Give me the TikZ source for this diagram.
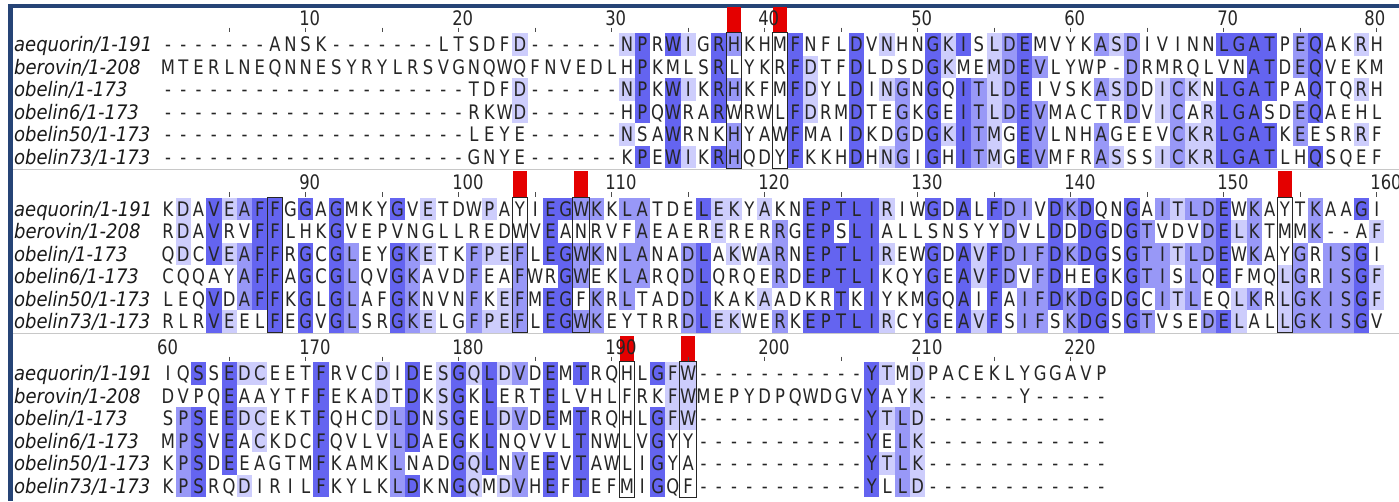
\documentclass[tikz,border=0pt]{standalone}
\usepackage{fontspec}
\usepackage{tikz}
\usetikzlibrary{positioning}
\newfontfamily\resfont[FakeStretch=0.82]{DejaVu Sans}
\newfontfamily\namefont[FakeStretch=0.9]{DejaVu Sans}

\definecolor{pidhigh}{RGB}{100,100,240}
\definecolor{pidmid}{RGB}{152,152,247}
\definecolor{pidlow}{RGB}{205,205,252}
\definecolor{framebar}{RGB}{38,68,118}
\definecolor{sitemark}{RGB}{228,0,0}
\definecolor{rulegray}{RGB}{200,200,200}

\tikzset{
	res/.style={minimum width=15.3pt,minimum height=22.5pt,inner sep=0pt,
		text height=14.6pt,text depth=0pt,text=black!85,
		font=\resfont\fontsize{20pt}{24pt}\selectfont},
	seqname/.style={anchor=west,inner sep=0pt,text height=14.6pt,text depth=0pt,
		text=black!90,font=\namefont\itshape\fontsize{20pt}{24pt}\selectfont},
	rulenum/.style={anchor=west,inner sep=0pt,text height=14.6pt,text depth=0pt,
		text=black!85,font=\resfont\fontsize{20pt}{24pt}\selectfont},
	ruletick/.style={draw=black!70,line width=0.9pt},
	colbox/.style={draw=black!85,line width=1pt},
	sitebar/.style={fill=sitemark}
}

% alignment rows, columns 1-222
\newcommand\setrow[2]{\expandafter\def\csname aln#1\endcsname{#2}}
\setrow{1}{%
-------ANSK-------LTSDFD------NPRWIGRHKHMFNFLDVNHNGKISLDEMVYKASDIVINNLGATPEQAKRH%
KDAVEAFFGGAGMKYGVETDWPAYIEGWKKLATDELEKYAKNEPTLIRIWGDALFDIVDKDQNGAITLDEWKAYTKAAGI%
IQSSEDCEETFRVCDIDESGQLDVDEMTRQHLGFW-----------YTMDPACEKLYGGAVP}
\setrow{2}{%
MTERLNEQNNESYRYLRSVGNQWQFNVEDLHPKMLSRLYKRFDTFDLDSDGKMEMDEVLYWP-DRMRQLVNATDEQVEKM%
RDAVRVFFLHKGVEPVNGLLREDWVEANRVFAEAERERERRGEPSLIALLSNSYYDVLDDDGDGTVDVDELKTMMK--AF%
DVPQEAAYTFFEKADTDKSGKLERTELVHLFRKFWMEPYDPQWDGVYAYK------Y-----}
\setrow{3}{%
--------------------TDFD------NPKWIKRHKFMFDYLDINGNGQITLDEIVSKASDDICKNLGATPAQTQRH%
QDCVEAFFRGCGLEYGKETKFPEFLEGWKNLANADLAKWARNEPTLIREWGDAVFDIFDKDGSGTITLDEWKAYGRISGI%
SPSEEDCEKTFQHCDLDNSGELDVDEMTRQHLGFW-----------YTLD------------}
\setrow{4}{%
--------------------RKWD------HPQWRARWRWLFDRMDTEGKGEITLDEVMACTRDVICARLGASDEQAEHL%
CQQAYAFFAGCGLQVGKAVDFEAFWRGWEKLARQDLQRQERDEPTLIKQYGEAVFDVFDHEGKGTISLQEFMQLGRISGF%
MPSVEACKDCFQVLVLDAEGKLNQVVLTNWLVGYY-----------YELK------------}
\setrow{5}{%
--------------------LEYE------NSAWRNKHYAWFMAIDKDGDGKITMGEVLNHAGEEVCKRLGATKEESRRF%
LEQVDAFFKGLGLAFGKNVNFKEFMEGFKRLTADDLKAKAADKRTKIYKMGQAIFAIFDKDGDGCITLEQLKRLGKISGF%
KPSDEEAGTMFKAMKLNADGQLNVEEVTAWLIGYA-----------YTLK------------}
\setrow{6}{%
--------------------GNYE------KPEWIKRHQDYFKKHDHNGIGHITMGEVMFRASSSICKRLGATLHQSQEF%
RLRVEELFEGVGLSRGKELGFPEFLEGWKEYTRRDLEKWERKEPTLIRCYGEAVFSIFSKDGSGTVSEDELALLGKISGV%
KPSRQDIRILFKYLKLDKNGQMDVHEFTEFMIGQF-----------YLLD------------}

% shade of one residue: identity count in its column (6 sequences)
\ExplSyntaxOn
\int_new:N \l_aln_hits_int
\tl_new:N \l_aln_res_tl
\cs_new:Npn \aln_res:nn #1#2 { \str_item:cn { aln#1 } { #2 } }
\NewDocumentCommand \getshade { m m }
  {
    \tl_set:Nx \l_aln_res_tl { \aln_res:nn {#1} {#2} }
    \int_zero:N \l_aln_hits_int
    \int_step_inline:nn { 6 }
      {
        \str_if_eq:eeT { \l_aln_res_tl } { \aln_res:nn {##1} {#2} }
          { \int_incr:N \l_aln_hits_int }
      }
    \str_if_eq:eeT { \l_aln_res_tl } { - }
      { \int_zero:N \l_aln_hits_int }
    \int_compare:nNnTF { \l_aln_hits_int } > { 4 }
      { \gdef \cellfill {pidhigh} }
      {
        \int_case:nnF { \l_aln_hits_int }
          { { 4 } { \gdef \cellfill {pidmid} } { 3 } { \gdef \cellfill {pidlow} } }
          { \gdef \cellfill {white} }
      }
    \xdef \cellres { \l_aln_res_tl }
  }
\ExplSyntaxOff

\begin{document}
\begin{tikzpicture}[x=1pt,y=-1pt]
	\useasboundingbox (0,0) rectangle (1399,501);
	\clip (0,0) rectangle (1399,501);

	% ==================================================
	% 1. WINDOW FRAME AND BLOCK SEPARATORS
	% ==================================================
	\fill[framebar] (8,4) rectangle (1399,7.5);
	\fill[framebar] (8,4) rectangle (13,501);
	\draw[rulegray] (13,169) -- (1399,169);
	\draw[rulegray] (13,333.5) -- (1399,333.5);

	% ==================================================
	% 2. NAMES AND RESIDUES (PERCENTAGE IDENTITY)
	% ==================================================
	\foreach \blk/\fcol/\lcol in {0/1/80,1/81/160,2/161/222}{
		\pgfmathsetmacro\blktop{33+164.5*\blk}
		\foreach \nm [count=\r] in {{aequorin/1-191},{berovin/1-208},{obelin/1-173},
			{obelin6/1-173},{obelin50/1-173},{obelin73/1-173}}
			\node[seqname] (n\blk-\r) at (14,{\blktop+(\r-0.5)*22.5}) {\nm};
		\foreach \c in {\fcol,...,\lcol}{
			\pgfmathsetmacro\xc{168+(\c-\fcol)*15.3}
			\foreach \r in {1,...,6}{
				\getshade{\r}{\c}
				\node[res,fill=\cellfill] (s\r-\c) at (\xc,{\blktop+(\r-0.5)*22.5}) {\cellres};
			}
		}
	}

	% ==================================================
	% 3. MARKED SITES AND BOXED COLUMNS
	% ==================================================
	\foreach \c in {38,41,104,108,154,191,195}
		\fill[sitebar] ([xshift=-7pt]s1-\c.north) rectangle ([xshift=7pt,yshift=26pt]s1-\c.north);
	\foreach \c in {38,41,88,104,108,154,191,195}
		\draw[colbox] (s1-\c.north west) rectangle (s6-\c.south east);

	% ==================================================
	% 4. RULER: TICKS EVERY 5, NUMBERS EVERY 10
	% ==================================================
	\foreach \blk/\fcol/\ticks in {0/1/{5,10,...,80},1/81/{85,90,...,160},2/161/{165,170,...,220}}{
		\pgfmathsetmacro\blktop{33+164.5*\blk}
		\foreach \t in \ticks{
			\pgfmathsetmacro\xc{168+(\t-\fcol)*15.3}
			\draw[ruletick] (\xc,\blktop-5.5) -- (\xc,\blktop-1);
			\pgfmathtruncatemacro\tens{mod(\t,10)}
			\ifnum\tens=0
				\node[rulenum] (num\t) at ({\xc-6.6-6*(\t==80)},\blktop-15) {\t};
			\fi
		}
	}
	\node[rulenum] (num160b) at (157,347) {60};

\end{tikzpicture}
\end{document}
